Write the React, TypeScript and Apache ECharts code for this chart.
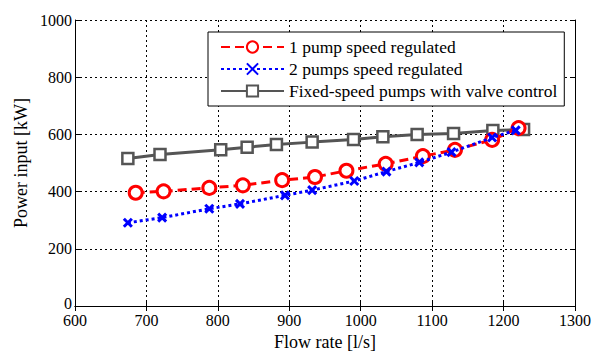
import React, { useEffect, useRef } from "react";
import * as echarts from "echarts";

const seriesNames = [
  "1 pump speed regulated",
  "2 pumps speed regulated",
  "Fixed-speed pumps with valve control",
];

const onePumpFlow = [685, 724, 788, 835, 890, 936, 980, 1035, 1087, 1132, 1184, 1221];
const onePumpPower = [396, 401, 413, 422, 440, 451, 473, 497, 524, 546, 581, 622];

const twoPumpFlow = [674, 722, 788, 831, 894, 932, 991, 1036, 1082, 1127, 1184, 1217];
const twoPumpPower = [291, 309, 340, 357, 387, 405, 437, 470, 502, 538, 589, 614];

const fixedFlow = [674, 719, 804, 841, 882, 932, 990, 1031, 1079, 1130, 1185, 1228];
const fixedPower = [516, 530, 546, 555, 565, 573, 582, 592, 600, 603, 614, 617];

const xTicks = [600, 700, 800, 900, 1000, 1100, 1200, 1300];
const yTicks = [0, 200, 400, 600, 800, 1000];

const zip = (a: number[], b: number[]) => a.map((v, i) => [v, b[i]]);

const FONT = "Liberation Serif";

export default function App() {
  const ref = useRef<HTMLDivElement>(null);
  useEffect(() => {
    if (!ref.current) return;
    const chart = echarts.init(ref.current, null, { renderer: "svg" });
    const axisCommon = {
      axisLine: { show: true, lineStyle: { color: "#000", width: 1 } },
      axisTick: { show: true, inside: true, length: 5, lineStyle: { color: "#000" } },
    };
    chart.setOption({
      animation: false,
      backgroundColor: "#fff",
      textStyle: { fontFamily: FONT, color: "#000" },
      grid: { left: 75, right: 20, top: 20, bottom: 49, containLabel: false },
      xAxis: [
        {
          type: "value",
          min: xTicks[0],
          max: xTicks[xTicks.length - 1],
          interval: 100,
          ...axisCommon,
          axisLabel: { show: false },
          splitLine: { show: true, lineStyle: { color: "#000", type: [2, 3], width: 1 } },
          name: "Flow rate [l/s]",
          nameLocation: "middle",
          nameGap: 27,
          nameTextStyle: { fontFamily: FONT, fontSize: 18, color: "#000" },
        },
        {
          type: "value",
          position: "top",
          min: xTicks[0],
          max: xTicks[xTicks.length - 1],
          interval: 100,
          ...axisCommon,
          axisLabel: { show: false },
          splitLine: { show: false },
        },
      ],
      yAxis: [
        {
          type: "value",
          min: yTicks[0],
          max: yTicks[yTicks.length - 1],
          interval: 200,
          ...axisCommon,
          axisLabel: { show: false },
          splitLine: { show: true, lineStyle: { color: "#000", type: [2, 3], width: 1 } },
          name: "Power input [kW]",
          nameLocation: "middle",
          nameGap: 45,
          nameTextStyle: { fontFamily: FONT, fontSize: 18, color: "#000" },
        },
        {
          type: "value",
          position: "right",
          min: yTicks[0],
          max: yTicks[yTicks.length - 1],
          interval: 200,
          ...axisCommon,
          axisLabel: { show: false },
          splitLine: { show: false },
        },
      ],
      legend: {
        left: 208,
        top: 32,
        orient: "vertical",
        backgroundColor: "#fff",
        borderColor: "#000",
        borderWidth: 1,
        borderRadius: 0,
        padding: [6, 7, 6, 12],
        itemGap: 4,
        itemWidth: 63,
        itemHeight: 14,
        textStyle: { fontFamily: FONT, fontSize: 17.5, color: "#000" },
        data: seriesNames,
      },
      series: [
        {
          name: seriesNames[0],
          type: "line",
          data: zip(onePumpFlow, onePumpPower),
          symbol: "circle",
          symbolSize: 13,
          showAllSymbol: true,
          lineStyle: { color: "#ff0000", width: 3, type: [9, 5] },
          itemStyle: { color: "#fff", borderColor: "#ff0000", borderWidth: 3 },
          z: 3,
        },
        {
          name: seriesNames[1],
          type: "line",
          data: zip(twoPumpFlow, twoPumpPower),
          symbol: "path://M0,0L10,10M10,0L0,10",
          symbolSize: 8,
          showAllSymbol: true,
          lineStyle: { color: "#0000ff", width: 3, type: [3, 3] },
          itemStyle: { color: "#0000ff", borderColor: "#0000ff", borderWidth: 3 },
          z: 4,
        },
        {
          name: seriesNames[2],
          type: "line",
          data: zip(fixedFlow, fixedPower),
          symbol: "rect",
          symbolSize: 11,
          showAllSymbol: true,
          lineStyle: { color: "#555555", width: 3, type: "solid" },
          itemStyle: { color: "#fff", borderColor: "#555555", borderWidth: 2.5 },
          z: 2,
        },
      ],
    });

    // Tick labels placed through the axes' own scales
    const yBase = chart.convertToPixel({ yAxisIndex: 0 }, yTicks[0]) as number;
    const xBase = chart.convertToPixel({ xAxisIndex: 0 }, xTicks[0]) as number;
    const labels: any[] = [];
    xTicks.forEach((v) => {
      labels.push({
        type: "text",
        x: chart.convertToPixel({ xAxisIndex: 0 }, v) as number,
        y: yBase + 6,
        silent: true,
        style: {
          text: String(v),
          fontFamily: FONT,
          fontSize: 16,
          fill: "#000",
          textAlign: "center",
          textVerticalAlign: "top",
        },
      });
    });
    yTicks.forEach((v) => {
      labels.push({
        type: "text",
        x: xBase - 3,
        y: (chart.convertToPixel({ yAxisIndex: 0 }, v) as number) - (v === 0 ? 3 : 0),
        silent: true,
        style: {
          text: String(v),
          fontFamily: FONT,
          fontSize: 16,
          fill: "#000",
          textAlign: "right",
          textVerticalAlign: "middle",
        },
      });
    });
    chart.setOption({ graphic: labels });

    return () => chart.dispose();
  }, []);
  return <div ref={ref} style={{ width: 595, height: 356, position: "absolute", left: 0, top: 0 }} />;
}
